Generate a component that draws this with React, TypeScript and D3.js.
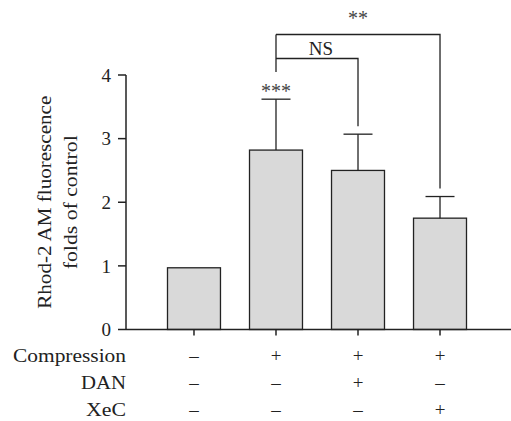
import React from 'react';
import * as d3 from 'd3';

// group values (folds of control)
const groups = ['Control', 'Compression', 'Compression+DAN', 'Compression+XeC'];
const means = [0.97, 2.82, 2.5, 1.75];
const upper = [0.97, 3.62, 3.07, 2.09];
const yTicks = [0, 1, 2, 3, 4];

// treatment table under the axis
const rowNames = ['Compression', 'DAN', 'XeC'];
const compressionRow = ['–', '+', '+', '+'];
const danRow = ['–', '–', '+', '–'];
const xecRow = ['–', '–', '–', '+'];

// significance brackets: from group, to group, label
const brackets = [
  { from: 1, to: 2, level: 58.5, text: 'NS' },
  { from: 1, to: 3, level: 34.5, text: '**' },
];

const W = 511;
const H = 421;
const font = '"Liberation Serif", "Times New Roman", serif';
const ink = '#222';

export default function App() {
  const x = d3.scaleBand<string>()
    .domain(groups)
    .range([167.5, 466.5])
    .paddingInner(0.354)
    .paddingOuter(0);

  const y = d3.scaleLinear().domain([0, 4]).range([329.5, 75]);

  const cx = (i: number) => (x(groups[i]) as number) + x.bandwidth() / 2;
  const capHalf = 14.5;
  const rows = [compressionRow, danRow, xecRow];
  const rowY = [355, 382, 409];
  const rowW = [113, 45, 40];

  return (
    <svg width={W} height={H} style={{ position: 'absolute', left: 0, top: 0 }}
      fontFamily={font} fill={ink}>
      <rect width={W} height={H} fill="#fff" />

      {/* bars */}
      {groups.map((g, i) => (
        <rect key={g} x={x(g)} y={y(means[i])} width={x.bandwidth()}
          height={y(0) - y(means[i])} fill="#d9d9d9" stroke="#222" strokeWidth={1.3} />
      ))}

      {/* error bars */}
      {groups.map((g, i) => upper[i] > means[i] ? (
        <g key={'e' + g} stroke="#222" strokeWidth={1.3}>
          <line x1={cx(i)} x2={cx(i)} y1={y(means[i])} y2={y(upper[i])} />
          <line x1={cx(i) - capHalf} x2={cx(i) + capHalf} y1={y(upper[i])} y2={y(upper[i])} />
        </g>
      ) : null)}

      {/* y axis */}
      <line x1={126} x2={126} y1={y(4)} y2={y(0)} stroke={ink} strokeWidth={1.5} />
      {yTicks.map(t => (
        <g key={t}>
          <line x1={118} x2={126} y1={y(t)} y2={y(t)} stroke={ink} strokeWidth={1.5} />
          <text x={111} y={y(t)} dy="0.35em" textAnchor="end" fontSize={19}>{t}</text>
        </g>
      ))}

      {/* x axis */}
      <line x1={126} x2={511} y1={y(0)} y2={y(0)} stroke={ink} strokeWidth={1.5} />
      {groups.map((g, i) => (
        <line key={'t' + g} x1={cx(i)} x2={cx(i)} y1={y(0)} y2={y(0) + 6} stroke={ink} strokeWidth={1.5} />
      ))}

      {/* y label */}
      <g transform={`translate(0, ${(y(4) + y(0)) / 2}) rotate(-90)`} fontSize={19} textAnchor="middle">
        <text x={0} y={51} textLength={213} lengthAdjust="spacingAndGlyphs">Rhod-2 AM fluorescence</text>
        <text x={0} y={77} textLength={134} lengthAdjust="spacingAndGlyphs">folds of control</text>
      </g>

      {/* treatment table */}
      {rowNames.map((r, ri) => (
        <g key={r}>
          <text x={126} y={rowY[ri]} dy="0.35em" textAnchor="end" fontSize={19}
            textLength={rowW[ri]} lengthAdjust="spacingAndGlyphs">{r}</text>
          {rows[ri].map((s, i) => (
            <text key={i} x={cx(i)} y={rowY[ri]} dy="0.35em" textAnchor="middle" fontSize={19}>{s}</text>
          ))}
        </g>
      ))}

      {/* significance */}
      <text x={cx(1)} y={98} textAnchor="middle" fontSize={20} fill="#444">***</text>
      <line x1={cx(1)} x2={cx(1)} y1={34.5} y2={72} stroke={ink} strokeWidth={1.3} />
      {brackets.map(b => {
        const endY = y(upper[b.to]) - 8;
        return (
          <path key={b.text} d={`M${cx(b.from)},${b.level}H${cx(b.to)}V${endY}`}
            fill="none" stroke={ink} strokeWidth={1.3} />
        );
      })}
      <text x={321} y={55} textAnchor="middle" fontSize={19}>{brackets[0].text}</text>
      <text x={cx(2)} y={25} textAnchor="middle" fontSize={20} fill="#444">{brackets[1].text}</text>
    </svg>
  );
}
